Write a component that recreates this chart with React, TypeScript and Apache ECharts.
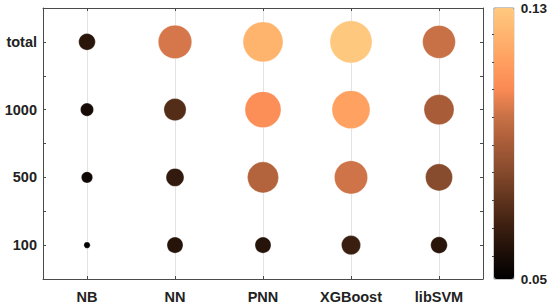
import React, { useEffect, useRef } from "react";
import * as echarts from "echarts";

const models = ["NB", "NN", "PNN", "XGBoost", "libSVM"];
const sampleSizes = ["100", "500", "1000", "total"];

// values per model, ordered as sampleSizes
const nbValues = [0.05, 0.054, 0.056, 0.061];
const nnValues = [0.06, 0.063, 0.071, 0.1];
const pnnValues = [0.06, 0.093, 0.108, 0.122];
const xgbValues = [0.065, 0.099, 0.115, 0.13];
const svmValues = [0.061, 0.082, 0.09, 0.098];

const colorMin = 0.05;
const colorMax = 0.13;
const colorbarLabels = [0.05, 0.13];
const colorbarTicks = [0.0568, 0.065, 0.0732, 0.0814, 0.0895, 0.0977, 0.1059, 0.1141, 0.1223];

// copper-like colormap stops (t = 0, 0.1, ..., 1)
const copper = [
  "#000000",
  "#1E0F08",
  "#3E2011",
  "#62351E",
  "#874B2D",
  "#A85C38",
  "#C87146",
  "#FA8A54",
  "#FF9E5F",
  "#FFB46E",
  "#FFC87F",
];

const FONT = 'Arial, "Liberation Sans", Helvetica, sans-serif';
const AXIS_COLOR = "#4a4a4a";

export default function App() {
  const ref = useRef<HTMLDivElement>(null);

  useEffect(() => {
    if (!ref.current) return;
    const chart = echarts.init(ref.current, undefined, { renderer: "svg" });

    const allValues = [nbValues, nnValues, pnnValues, xgbValues, svmValues];
    const data: number[][] = [];
    allValues.forEach((vals, mi) => {
      vals.forEach((v, si) => {
        data.push([mi, si + 1, v]);
      });
    });

    const sizeOf = (v: number) => Math.sqrt(Math.max(0, 21543 * (v - 0.0481)));

    const yLabel = (v: number) =>
      Number.isInteger(v) && v >= 1 && v <= sampleSizes.length ? sampleSizes[v - 1] : "";

    chart.setOption({
      animation: false,
      backgroundColor: "#ffffff",
      grid: [
        { left: 43, right: 67, top: 8, bottom: 27, containLabel: false },
        { left: 494, width: 20, top: 8, height: 271, show: true, borderColor: "#8a8a8a", borderWidth: 1 },
      ],
      xAxis: [
        {
          type: "category",
          gridIndex: 0,
          data: models,
          position: "bottom",
          boundaryGap: true,
          axisLine: { show: true, lineStyle: { color: AXIS_COLOR, width: 1 } },
          axisTick: { show: true, inside: true, alignWithLabel: true, length: 3, lineStyle: { color: AXIS_COLOR } },
          axisLabel: {
            show: true,
            margin: 10,
            color: "#222",
            fontFamily: FONT,
            fontWeight: "bold",
            fontSize: 14.5,
          },
          splitLine: { show: true, alignWithLabel: true, lineStyle: { color: "#e3e3e3", width: 1 } },
        },
        {
          type: "category",
          gridIndex: 0,
          data: models,
          position: "top",
          boundaryGap: true,
          axisLine: { show: true, lineStyle: { color: AXIS_COLOR, width: 1 } },
          axisTick: { show: true, inside: true, alignWithLabel: true, length: 3, lineStyle: { color: AXIS_COLOR } },
          axisLabel: { show: false },
          splitLine: { show: false },
        },
        {
          type: "value",
          gridIndex: 1,
          min: 0,
          max: 1,
          show: false,
        },
      ],
      yAxis: [
        {
          type: "value",
          gridIndex: 0,
          min: 0.5,
          max: 4.5,
          interval: 0.5,
          position: "left",
          axisLine: { show: true, lineStyle: { color: AXIS_COLOR, width: 1 } },
          axisTick: { show: true, inside: true, length: 3, lineStyle: { color: AXIS_COLOR } },
          axisLabel: {
            show: true,
            margin: 6,
            color: "#222",
            fontFamily: FONT,
            fontWeight: "bold",
            fontSize: 14.5,
            formatter: yLabel,
          },
          splitLine: { show: false },
        },
        {
          type: "value",
          gridIndex: 0,
          min: 0.5,
          max: 4.5,
          interval: 0.5,
          position: "right",
          axisLine: { show: true, lineStyle: { color: AXIS_COLOR, width: 1 } },
          axisTick: { show: true, inside: true, length: 3, lineStyle: { color: AXIS_COLOR } },
          axisLabel: { show: false },
          splitLine: { show: false },
        },
        {
          type: "value",
          gridIndex: 1,
          min: colorMin,
          max: colorMax,
          position: "right",
          axisLine: { show: false },
          axisTick: {
            show: true,
            inside: true,
            length: 2,
            customValues: colorbarTicks,
            lineStyle: { color: "#444" },
          },
          axisLabel: {
            show: true,
            margin: 7,
            customValues: colorbarLabels,
            color: "#222",
            fontFamily: FONT,
            fontWeight: "bold",
            fontSize: 13.5,
            formatter: (v: number) => v.toFixed(2),
          },
          splitLine: { show: false },
          z: 10,
        },
      ],
      visualMap: {
        type: "continuous",
        min: colorMin,
        max: colorMax,
        dimension: 2,
        seriesIndex: 0,
        orient: "vertical",
        left: 494,
        top: 8,
        padding: 0,
        itemWidth: 20,
        itemHeight: 271,
        calculable: false,
        showLabel: false,
        text: ["", ""],
        inRange: { color: copper },
        z: 2,
      },
      series: [
        {
          type: "scatter",
          xAxisIndex: 0,
          yAxisIndex: 0,
          data,
          symbol: "circle",
          symbolSize: (val: number[]) => sizeOf(val[2]),
          itemStyle: { opacity: 1, borderColor: "rgba(255,255,255,0.35)", borderWidth: 0.8 },
          z: 3,
        },
      ],
    });

    return () => chart.dispose();
  }, []);

  return (
    <div
      ref={ref}
      style={{ position: "fixed", left: 0, top: 0, width: 550, height: 306, background: "#fff" }}
    />
  );
}
